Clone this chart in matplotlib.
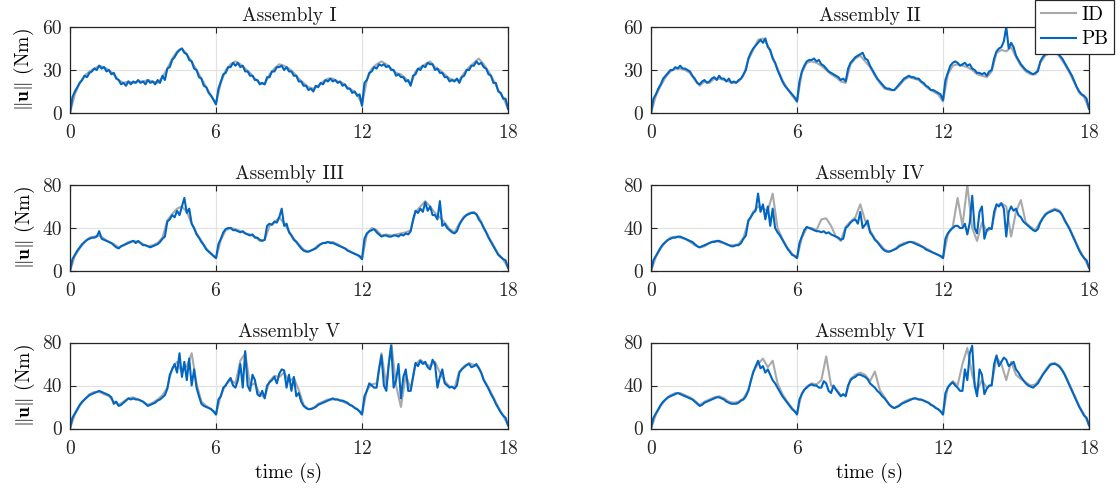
import numpy as np
import matplotlib
matplotlib.use('Agg')
import matplotlib.pyplot as plt

# fuente tipo LaTeX (Computer Modern incluida en matplotlib)
plt.rcParams['font.family'] = 'serif'
plt.rcParams['font.serif'] = ['cmr10']
plt.rcParams['mathtext.fontset'] = 'cm'
plt.rcParams['axes.unicode_minus'] = False
plt.rcParams['axes.formatter.use_mathtext'] = True

# tiempos de muestreo: PB cada 0.1 s, ID cada 0.2 s (0 a 18 s)
time_pb = np.arange(181) * 0.1
time_id = np.arange(91) * 0.2

titles = ['Assembly I', 'Assembly II', 'Assembly III', 'Assembly IV', 'Assembly V', 'Assembly VI']
y_max = [60, 60, 80, 80, 80, 80]

# ----------------------- valores (Nm) -----------------------
asm1_pb = [0, 11, 15, 18, 21, 23, 26, 25, 28, 29,  31, 30, 33, 31, 32, 29, 30, 27, 28, 24,
           23, 20, 21, 19, 22, 20, 22, 21, 23, 21,  22, 20, 23, 21, 22, 20, 23, 21, 26, 23,
           31, 32, 37, 39, 42, 44, 45, 42, 41, 37,  36, 31, 30, 25, 24, 19, 18, 14, 12, 9,
           6, 17, 22, 27, 28, 32, 32, 35, 33, 35,  32, 33, 29, 29, 26, 26, 23, 23, 20, 21,
           20, 25, 25, 29, 29, 32, 32, 33, 30, 32,  29, 29, 26, 26, 22, 22, 19, 19, 16, 17,
           15, 19, 18, 21, 20, 23, 22, 24, 22, 23,  21, 22, 19, 20, 17, 17, 14, 15, 12, 13,
           5, 21, 23, 28, 29, 32, 31, 34, 33, 34,  32, 33, 30, 30, 26, 27, 25, 25, 22, 23,
           19, 26, 27, 31, 30, 33, 32, 35, 34, 34,  30, 31, 28, 28, 25, 25, 22, 23, 22, 24,
           21, 25, 26, 30, 30, 33, 33, 36, 34, 35,  32, 31, 27, 26, 21, 21, 15, 14, 10, 10,
           3]
asm1_id = [0, 13, 21, 26, 29, 31, 33, 32, 30, 27, 23, 21, 22, 21, 22, 22, 23, 22, 21, 25,
           31, 38, 43, 45, 41, 36, 30, 24, 18, 12, 7, 21, 30, 34, 36, 34, 31, 28, 24, 21,
           20, 27, 31, 34, 33, 31, 28, 24, 21, 18, 17, 19, 22, 24, 24, 22, 21, 18, 16, 13,
           6, 23, 31, 34, 36, 34, 31, 28, 27, 24, 20, 29, 32, 34, 36, 32, 30, 27, 24, 23,
           23, 28, 32, 35, 38, 34, 29, 23, 16, 11, 3]

asm2_pb = [0, 10, 13, 17, 20, 24, 26, 28, 30, 30,  32, 31, 33, 31, 31, 30, 29, 26, 24, 21,
           20, 22, 23, 21, 22, 24, 25, 23, 26, 24,  24, 22, 24, 21, 22, 21, 23, 24, 27, 30,
           38, 42, 45, 47, 49, 51, 49, 52, 46, 44,  38, 35, 30, 26, 22, 19, 17, 15, 13, 11,
           8, 22, 29, 33, 36, 37, 37, 38, 36, 37,  34, 33, 31, 29, 28, 27, 26, 25, 23, 24,
           22, 31, 35, 37, 39, 40, 41, 42, 38, 37,  33, 30, 27, 24, 22, 20, 18, 17, 17, 16,
           16, 18, 20, 22, 24, 25, 26, 25, 25, 24,  24, 22, 21, 19, 18, 16, 16, 15, 14, 13,
           9, 23, 28, 33, 35, 36, 35, 33, 34, 35,  33, 34, 31, 30, 28, 28, 27, 28, 26, 29,
           30, 38, 43, 45, 46, 50, 60, 45, 49, 46,  40, 37, 34, 32, 30, 29, 28, 27, 28, 29,
           36, 39, 41, 42, 43, 43, 42, 43, 40, 38,  35, 32, 29, 26, 22, 18, 15, 13, 12, 10,
           3]
asm2_id = [0, 12, 19, 25, 29, 31, 31, 30, 28, 23, 19, 22, 21, 24, 24, 23, 22, 21, 22, 26,
           37, 44, 51, 52, 47, 39, 31, 23, 17, 12, 8, 28, 35, 36, 35, 33, 30, 27, 25, 22,
           21, 34, 38, 40, 36, 32, 26, 21, 17, 16, 16, 19, 23, 25, 24, 23, 20, 17, 15, 13,
           8, 27, 33, 34, 33, 32, 30, 27, 26, 25, 29, 42, 44, 43, 46, 39, 33, 29, 27, 27,
           35, 40, 42, 43, 39, 34, 28, 21, 14, 11, 3]

asm3_pb = [0, 11, 15, 19, 22, 25, 27, 29, 30, 31,  31, 32, 37, 30, 29, 28, 27, 26, 24, 22,
           21, 23, 24, 25, 26, 27, 28, 26, 28, 26,  24, 24, 23, 22, 23, 24, 25, 27, 30, 32,
           46, 48, 52, 50, 56, 52, 60, 68, 54, 58,  44, 40, 34, 31, 27, 24, 20, 18, 16, 14,
           12, 25, 30, 36, 39, 40, 40, 38, 38, 37,  36, 37, 35, 34, 33, 34, 31, 31, 29, 28,
           29, 42, 44, 43, 46, 45, 50, 58, 42, 44,  36, 33, 29, 27, 24, 21, 19, 18, 18, 19,
           20, 21, 23, 25, 26, 26, 27, 26, 26, 25,  24, 23, 22, 21, 19, 18, 17, 16, 15, 14,
           11, 30, 35, 37, 38, 39, 36, 34, 32, 33,  33, 32, 32, 33, 33, 32, 34, 33, 35, 34,
           37, 48, 56, 54, 58, 55, 64, 56, 60, 52,  52, 48, 65, 42, 44, 40, 38, 36, 35, 37,
           43, 47, 50, 52, 53, 54, 54, 53, 48, 45,  40, 36, 31, 27, 23, 19, 15, 13, 11, 10,
           3]
asm3_id = [0, 14, 21, 27, 31, 32, 33, 30, 27, 25, 22, 24, 27, 28, 27, 25, 23, 24, 26, 31,
           47, 53, 58, 60, 55, 44, 35, 28, 21, 16, 12, 29, 38, 40, 39, 37, 35, 34, 32, 28,
           29, 42, 45, 50, 44, 37, 30, 25, 20, 18, 20, 24, 26, 27, 27, 25, 22, 20, 17, 15,
           11, 34, 40, 38, 33, 34, 33, 34, 35, 36, 38, 55, 60, 65, 60, 54, 50, 45, 39, 36,
           44, 51, 54, 55, 50, 41, 32, 24, 16, 11, 3]

asm4_pb = [0, 10, 14, 18, 22, 25, 27, 29, 30, 31,  31, 32, 32, 31, 30, 29, 28, 27, 25, 23,
           22, 23, 24, 25, 26, 27, 27, 28, 28, 27,  26, 25, 24, 23, 23, 24, 24, 26, 30, 33,
           47, 50, 54, 56, 72, 55, 62, 48, 60, 42,  58, 40, 36, 33, 29, 25, 21, 18, 15, 14,
           12, 26, 32, 38, 41, 40, 39, 38, 37, 37,  36, 37, 35, 36, 34, 33, 32, 31, 29, 30,
           40, 42, 45, 47, 48, 44, 55, 40, 43, 47,  36, 33, 29, 27, 24, 21, 19, 18, 18, 19,
           20, 21, 23, 24, 25, 26, 27, 27, 26, 25,  24, 23, 22, 20, 19, 18, 17, 16, 15, 14,
           12, 30, 35, 38, 40, 42, 42, 40, 40, 44,  34, 45, 70, 40, 35, 55, 60, 30, 38, 40,
           39, 55, 62, 60, 63, 58, 32, 55, 60, 56,  58, 52, 50, 46, 44, 42, 40, 38, 37, 39,
           45, 49, 52, 54, 55, 56, 57, 56, 55, 52,  47, 43, 39, 34, 29, 24, 19, 15, 12, 10,
           3]
asm4_id = [0, 13, 21, 27, 31, 32, 31, 30, 27, 24, 22, 23, 26, 28, 27, 26, 24, 24, 25, 31,
           46, 55, 60, 58, 56, 72, 40, 30, 22, 16, 12, 31, 40, 40, 38, 48, 49, 42, 32, 28,
           41, 46, 50, 62, 47, 38, 30, 25, 20, 18, 20, 24, 26, 27, 27, 25, 22, 20, 17, 15,
           12, 34, 41, 68, 42, 80, 40, 28, 45, 37, 40, 61, 63, 60, 32, 55, 66, 45, 41, 38,
           46, 53, 56, 58, 56, 48, 40, 30, 20, 12, 3]

asm5_pb = [0, 10, 14, 18, 22, 25, 27, 29, 31, 32,  33, 34, 35, 34, 33, 32, 31, 29, 23, 25,
           21, 22, 24, 26, 28, 27, 28, 27, 27, 26,  25, 23, 21, 22, 23, 24, 26, 27, 29, 31,
           37, 50, 55, 60, 52, 70, 48, 62, 45, 65,  40, 55, 38, 30, 23, 21, 20, 19, 18, 16,
           13, 27, 30, 38, 40, 44, 47, 40, 38, 45,  60, 38, 72, 40, 35, 50, 45, 32, 30, 35,
           28, 40, 43, 45, 48, 42, 51, 55, 54, 38,  50, 35, 48, 30, 33, 25, 21, 19, 18, 18,
           19, 20, 22, 23, 24, 25, 26, 27, 28, 27,  27, 26, 26, 25, 24, 22, 21, 19, 18, 16,
           13, 30, 35, 42, 40, 38, 38, 55, 68, 40,  35, 60, 77, 38, 45, 60, 28, 48, 55, 35,
           35, 48, 61, 58, 63, 60, 62, 57, 55, 64,  60, 38, 48, 55, 42, 40, 38, 39, 37, 40,
           52, 55, 57, 59, 60, 57, 58, 60, 56, 52,  45, 41, 37, 32, 28, 23, 19, 15, 12, 10,
           3]
asm5_id = [0, 13, 21, 27, 32, 34, 34, 32, 30, 25, 22, 25, 28, 29, 27, 25, 22, 24, 27, 31,
           38, 56, 62, 52, 58, 70, 42, 25, 21, 18, 13, 31, 41, 45, 42, 63, 70, 40, 42, 32,
           29, 44, 49, 48, 52, 44, 47, 36, 22, 18, 19, 23, 25, 27, 27, 27, 25, 23, 21, 18,
           13, 36, 41, 42, 70, 40, 80, 40, 20, 50, 37, 60, 64, 60, 58, 62, 52, 44, 39, 38,
           53, 58, 61, 59, 57, 46, 38, 29, 20, 12, 3]

asm6_pb = [0, 10, 14, 18, 22, 25, 27, 29, 30, 31,  32, 33, 32, 31, 30, 29, 28, 27, 25, 23,
           21, 22, 24, 25, 26, 27, 28, 29, 29, 28,  27, 25, 24, 23, 23, 23, 24, 26, 27, 30,
           35, 44, 52, 58, 63, 56, 58, 52, 55, 50,  45, 42, 38, 34, 30, 27, 24, 21, 18, 16,
           13, 27, 32, 36, 38, 40, 41, 40, 40, 38,  38, 44, 42, 35, 33, 40, 36, 33, 30, 32,
           30, 40, 45, 47, 48, 50, 50, 49, 48, 46,  42, 40, 38, 35, 33, 30, 28, 25, 22, 20,
           19, 20, 21, 23, 24, 25, 26, 27, 28, 28,  27, 27, 26, 25, 24, 22, 21, 19, 18, 16,
           13, 33, 38, 41, 43, 40, 38, 35, 35, 55,  45, 70, 77, 40, 30, 55, 50, 32, 37, 40,
           40, 60, 68, 58, 62, 66, 64, 58, 60, 62,  55, 52, 48, 45, 42, 40, 39, 38, 40, 42,
           46, 50, 53, 56, 59, 60, 60, 59, 57, 54,  50, 45, 40, 35, 30, 25, 20, 16, 12, 10,
           3]
asm6_id = [0, 13, 21, 27, 31, 33, 33, 31, 29, 26, 22, 25, 27, 29, 30, 28, 25, 24, 25, 28,
           36, 53, 60, 65, 57, 63, 42, 32, 25, 19, 14, 33, 39, 42, 41, 45, 67, 40, 37, 31,
           31, 46, 50, 52, 50, 44, 53, 36, 29, 22, 19, 22, 25, 27, 28, 27, 26, 24, 21, 18,
           13, 39, 44, 40, 60, 75, 50, 35, 45, 38, 41, 66, 60, 45, 62, 50, 46, 43, 40, 41,
           47, 54, 60, 61, 58, 51, 41, 31, 21, 13, 3]

pb_data = [asm1_pb, asm2_pb, asm3_pb, asm4_pb, asm5_pb, asm6_pb]
id_data = [asm1_id, asm2_id, asm3_id, asm4_id, asm5_id, asm6_id]

# --------------------------------- GRAFICAR ---------------------------------------
fig = plt.figure(figsize=(11.2, 5), dpi=100)

col_x = [70 / 1120, 651 / 1120]
row_y = [1 - 113 / 500, 1 - 271 / 500, 1 - 428.5 / 500]
ax_w = 438 / 1120
ax_h = 86 / 500

for k in range(6):
    row, col = k // 2, k % 2
    ax = fig.add_axes([col_x[col], row_y[row], ax_w, ax_h])
    l_id, = ax.plot(time_id, id_data[k], color='#a9a9a9', linewidth=1.5, label='ID')
    l_pb, = ax.plot(time_pb, pb_data[k], color='#0066c2', linewidth=1.5, label='PB')
    ax.set_xlim(0, 18)
    ax.set_ylim(0, y_max[k])
    ax.set_xticks([0, 6, 12, 18])
    ax.set_yticks([0, y_max[k] / 2, y_max[k]])
    ax.set_yticklabels([0, int(y_max[k] / 2), y_max[k]])
    ax.grid(True, color='#e3e3e3', linewidth=0.9)
    ax.set_axisbelow(True)
    ax.tick_params(direction='in', top=True, right=True, length=4, width=0.8,
                   colors='#262626', labelsize=14, pad=6)
    ax.tick_params(axis='x', pad=8)
    for sp in ax.spines.values():
        sp.set_color('#262626')
        sp.set_linewidth(0.9)
    ax.set_title(titles[k], fontsize=14, pad=4, color='#1a1a1a')
    if col == 0:
        ax.set_ylabel(r'$\|\mathbf{u}\|$ (Nm)', fontsize=14, labelpad=4)
    if row == 2:
        ax.set_xlabel('time (s)', fontsize=14, labelpad=4)

leg = fig.legend(handles=[l_id, l_pb], loc='upper right', bbox_to_anchor=(0.995, 1.0),
                 fontsize=14, fancybox=False, edgecolor='#262626', framealpha=1,
                 handlelength=1.8, handletextpad=0.3, borderpad=0.3, labelspacing=0.35,
                 borderaxespad=0)
leg.get_frame().set_linewidth(0.9)

plt.savefig('out.png', dpi=100)
